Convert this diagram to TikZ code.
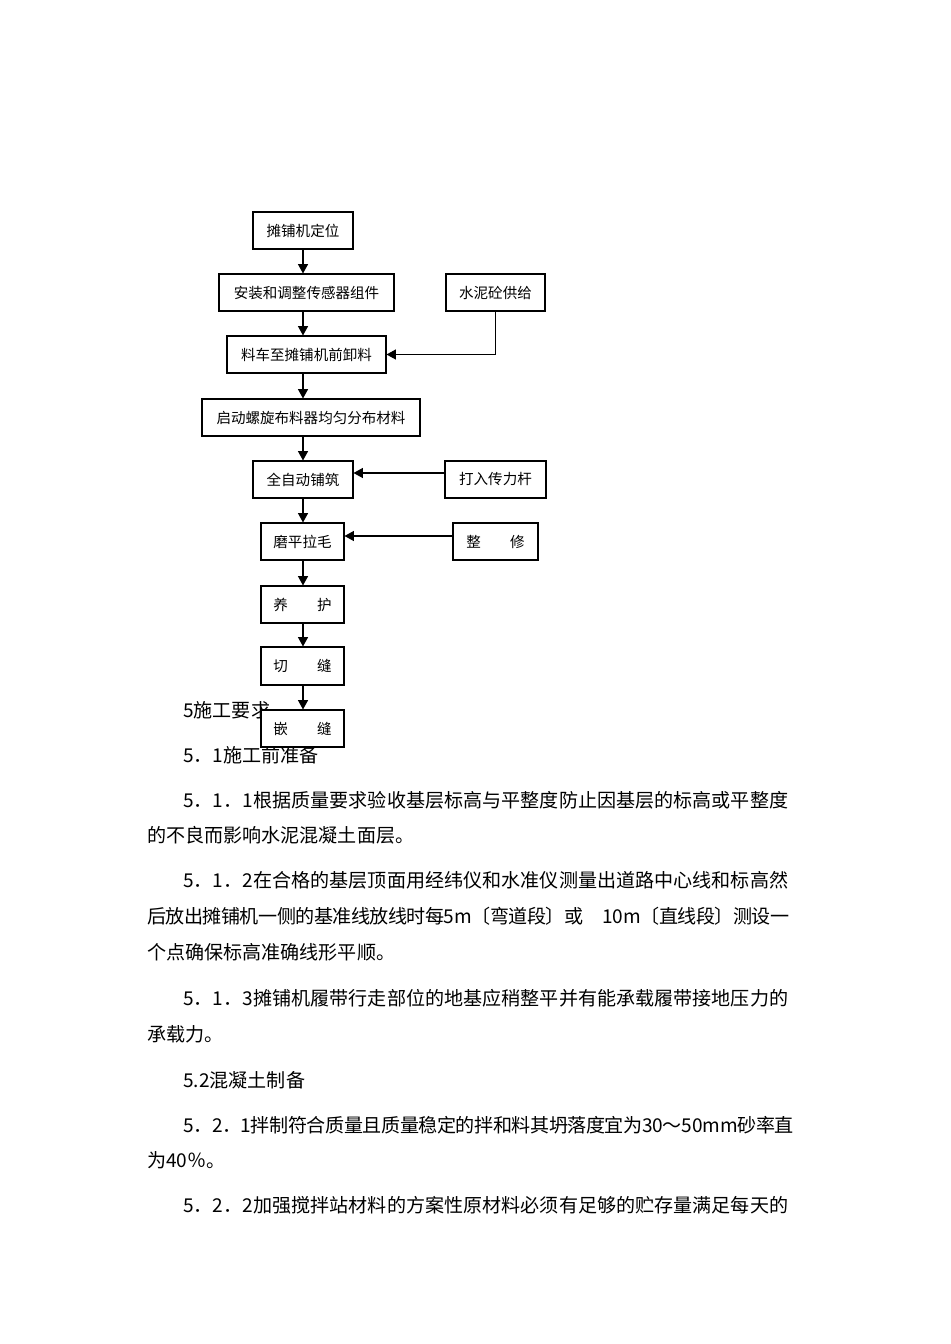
\documentclass[tikz,border=0pt]{standalone}
\usepackage{fontspec}
\setmainfont{Noto Sans CJK SC}
\usetikzlibrary{arrows.meta}
\newcount\cjkcnt
\XeTeXinterchartokenstate=1
\cjkcnt="3000 \loop \XeTeXcharclass\cjkcnt=7 \advance\cjkcnt 1 \ifnum\cjkcnt<"3040 \repeat
\cjkcnt="4E00 \loop \XeTeXcharclass\cjkcnt=7 \advance\cjkcnt 1 \ifnum\cjkcnt<"A000 \repeat
\cjkcnt="FF00 \loop \XeTeXcharclass\cjkcnt=7 \advance\cjkcnt 1 \ifnum\cjkcnt<"FFF0 \repeat
\XeTeXinterchartoks 7 7 = {\hskip 0pt plus 1pt minus 0.4pt\relax}
\XeTeXinterchartoks 0 7 = {\hskip 0pt plus 1pt minus 0.4pt\relax}
\XeTeXinterchartoks 7 0 = {\hskip 0pt plus 1pt minus 0.4pt\relax}
\tikzset{
  box/.style={draw, line width=0.8pt, fill=white, inner sep=0pt, minimum height=27.75pt,
    font=\fontsize{10.9pt}{12pt}\selectfont},
  arr/.style={line width=0.8pt, -{Triangle[length=7pt,width=7.5pt]}},
  para/.style={anchor=base west, inner sep=0pt, font=\fontsize{14.3pt}{17pt}\selectfont}
}
\begin{document}
\begin{tikzpicture}[x=0.75pt,y=-0.75pt]
\useasboundingbox[fill=white] (0,0) rectangle (950,1344);
% body text
\node[para] (t1) at (183,717) {5施工要求};
\node[para] (t2) at (183,762) {5．1施工前准备};
\node[para] (t3) at (183,807) {\hbox to 453.75pt{5．1．1根据质量要求验收基层标高与平整度防止因基层的标高或平整度}};
\node[para] (t4) at (147,842) {的不良而影响水泥混凝土面层。};
\node[para] (t5) at (183,887) {\hbox to 453.75pt{5．1．2在合格的基层顶面用经纬仪和水准仪测量出道路中心线和标高然}};
\node[para] (t6) at (147,923) {\hbox to 480.75pt{后放出摊铺机一侧的基准线放线时每5m〔弯道段〕或\hspace{1em}10m〔直线段〕测设一}};
\node[para] (t7) at (147,959) {个点确保标高准确线形平顺。};
\node[para] (t8) at (183,1005) {\hbox to 453.75pt{5．1．3摊铺机履带行走部位的地基应稍整平并有能承载履带接地压力的}};
\node[para] (t9) at (147,1041) {承载力。};
\node[para] (t10) at (183,1087) {5.2混凝土制备};
\node[para] (t11) at (183,1132) {\hbox to 458pt{5．2．1拌制符合质量且质量稳定的拌和料其坍落度宜为30～50mm砂率直}};
\node[para] (t12) at (147,1167) {为40％。};
\node[para] (t13) at (183,1212) {\hbox to 453.75pt{5．2．2加强搅拌站材料的方案性原材料必须有足够的贮存量满足每天的}};
% flowchart boxes
\coordinate (col) at (303,0);
\node[box, minimum width=75pt] (A) at (303,230.5) {摊铺机定位};
\node[box, minimum width=131.25pt] (B) at (306.5,292.5) {安装和调整传感器组件};
\node[box, minimum width=74.25pt] (C) at (495.5,292.5) {水泥砼供给};
\node[box, minimum width=119.25pt] (D) at (306.5,354.5) {料车至摊铺机前卸料};
\node[box, minimum width=163.5pt] (E) at (311,417.5) {启动螺旋布料器均匀分布材料};
\node[box, minimum width=75pt] (F) at (303,479.5) {全自动铺筑};
\node[box, minimum width=75.75pt] (G) at (495.5,479.5) {打入传力杆};
\node[box, minimum width=62.25pt] (H) at (302.5,541.5) {磨平拉毛};
\node[box, minimum width=63.75pt] (I) at (495.5,541.5) {整　　修};
\node[box, minimum width=62.25pt] (J) at (302.5,604.5) {养　　护};
\node[box, minimum width=62.25pt, minimum height=28.5pt] (K) at (302.5,666) {切　　缝};
\node[box, minimum width=62.25pt] (L) at (302.5,728.5) {嵌　　缝};
% connectors
\draw[arr] (A.south -| col) -- (B.north -| col);
\draw[arr] (B.south -| col) -- (D.north -| col);
\draw[arr] (D.south -| col) -- (E.north -| col);
\draw[arr] (E.south -| col) -- (F.north -| col);
\draw[arr] (F.south -| col) -- (H.north -| col);
\draw[arr] (H.south -| col) -- (J.north -| col);
\draw[arr] (J.south -| col) -- (K.north -| col);
\draw[arr] (K.south -| col) -- (L.north -| col);
\draw[arr] (C.south) |- (D.east);
\draw[arr] (G.west |- 0,473) -- (F.east |- 0,473);
\draw[arr] (I.west |- 0,536) -- (H.east |- 0,536);
\end{tikzpicture}
\end{document}
